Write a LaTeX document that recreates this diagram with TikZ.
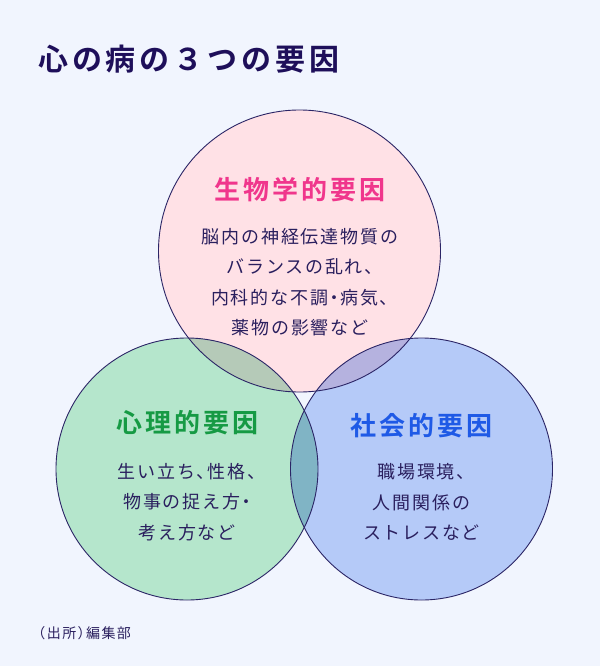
\documentclass[tikz,border=0pt]{standalone}
\usepackage{fontspec}
\setmainfont{Noto Sans CJK JP}[BoldFont={Noto Sans CJK JP Bold}]
\definecolor{pagebg}{HTML}{F1F5FE}
\definecolor{ringline}{HTML}{2B2566}
\definecolor{inknavy}{HTML}{2A1F5E}
\definecolor{titlenavy}{HTML}{1E0F5A}
\definecolor{biofill}{HTML}{FFE1E6}
\definecolor{psyfill}{HTML}{B5E6CC}
\definecolor{socfill}{HTML}{B5CAF8}
\definecolor{biopsy}{HTML}{B5CAB8}
\definecolor{biosoc}{HTML}{B5B2DF}
\definecolor{psysoc}{HTML}{80B4C5}
\definecolor{biohead}{HTML}{F0368C}
\definecolor{psyhead}{HTML}{169A44}
\definecolor{sochead}{HTML}{1F5AE6}
\newcommand{\HP}[1]{\hspace{0.08em}{\addfontfeature{RawFeature=+halt}#1}\hspace{0.12em}}

\begin{document}
\begin{tikzpicture}[x=1pt,y=-1pt, ring/.style={draw=ringline, line width=0.9pt}]
	\tikzstyle{head}=[font=\fontsize{26}{30}\selectfont\bfseries\addfontfeature{LetterSpace=12}, inner sep=0pt]
	\tikzstyle{body}=[font=\fontsize{18}{30.5}\selectfont\addfontfeature{LetterSpace=10}, text=inknavy, align=center, inner sep=0pt]
	
	% Background
	\fill[pagebg] (0,0) rectangle (600,666);
	\useasboundingbox (0,0) rectangle (600,666);
	
	% Circle centres
	\coordinate (bio) at (299.5,251);
	\coordinate (psy) at (187,469);
	\coordinate (soc) at (421.5,469);
	
	% Draw circles
	\fill[biofill] (bio) circle[radius=141pt];
	\fill[psyfill] (psy) circle[radius=131pt];
	\fill[socfill] (soc) circle[radius=131pt];
	
	% Draw overlaps
	\begin{scope}
		\clip (bio) circle[radius=141pt];
		\fill[biopsy] (psy) circle[radius=131pt];
		\fill[biosoc] (soc) circle[radius=131pt];
	\end{scope}
	\begin{scope}
		\clip (psy) circle[radius=131pt];
		\fill[psysoc] (soc) circle[radius=131pt];
	\end{scope}
	
	% Draw outlines
	\draw[ring] (bio) circle[radius=141pt];
	\draw[ring] (psy) circle[radius=131pt];
	\draw[ring] (soc) circle[radius=131pt];
	
	% Title
	\node[anchor=west, text=titlenavy, inner sep=0pt, font=\fontsize{30}{34}\selectfont\bfseries\addfontfeature{LetterSpace=13}] (title) at (38,59.5) {心の病の３つの要因};
	
	% Draw labels
	\node[head, text=biohead] (biotitle) at (300,190) {生物学的要因};
	\node[body] (biotext) at (300,282) {脳内の神経伝達物質の\\バランスの乱れ\HP{、}\\内科的な不調\HP{・}病気\HP{、}\\薬物の影響など\hspace{1em}};
	
	\node[head, text=psyhead] (psytitle) at (187.5,423) {心理的要因};
	\node[body] (psytext) at (187,502) {生い立ち\HP{、}性格\HP{、}\\物事の捉え方\HP{・}\\考え方など};
	
	\node[head, text=sochead] (soctitle) at (421.5,426) {社会的要因};
	\node[body] (soctext) at (421.5,502) {職場環境\HP{、}\\人間関係の\\ストレスなど};
	
	% Source
	\node[anchor=west, text=inknavy, inner sep=0pt, font=\fontsize{14}{16}\selectfont\addfontfeature{LetterSpace=10}] (source) at (37,633) {\HP{（}出所\HP{）}編集部};
	
\end{tikzpicture}
\end{document}
